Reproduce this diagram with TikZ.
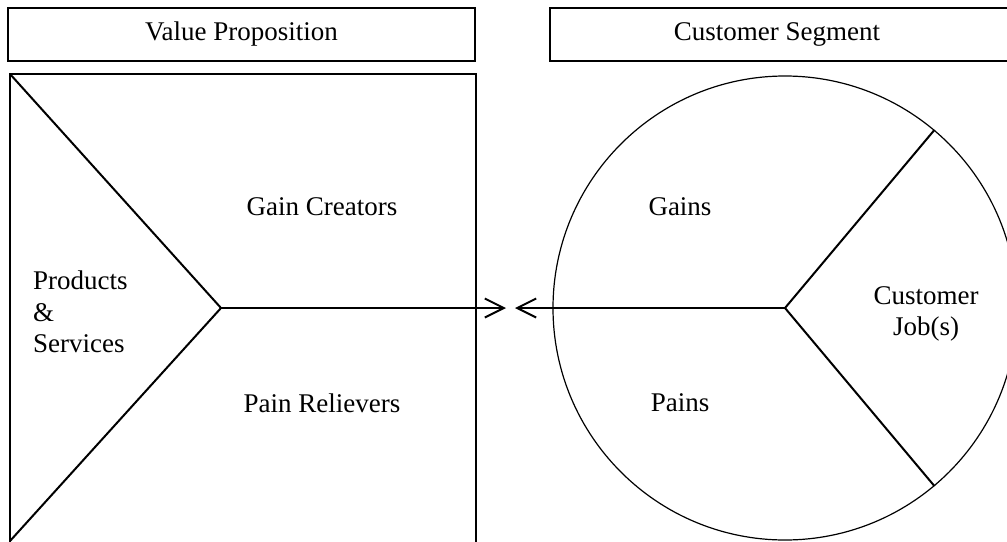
\documentclass[tikz,border=0pt]{standalone}
\usepackage{fontspec}
\setmainfont{Liberation Serif}
\usetikzlibrary{arrows.meta}
\usetikzlibrary{positioning}

\begin{document}
\begin{tikzpicture}[x=1pt, y=-1pt,
    every node/.style={font=\fontsize{27}{31.5}\selectfont},
    titlebox/.style={draw, line width=1.2pt, minimum width=467pt, minimum height=53pt, inner sep=0pt},
    divider/.style={line width=2pt},
    link/.style={line width=2pt, -{Straight Barb[length=19pt, width=19pt, line width=2pt]}}]
    \useasboundingbox (0,0) rectangle (1007,541);
    \clip (0,0) rectangle (1007,541);
    % headings
    \node[titlebox] (vp) at (241.5,34.5) {Value Proposition};
    \draw[line width=1.2pt] (550,8) rectangle (1015,61);
    \node (seg) at (777,34.5) {Customer Segment};
    % value map
    \draw[line width=1.2pt] (10,74) rectangle (476,570);
    \coordinate (tl) at (10,74);
    \coordinate (bl) at (10,541);
    \coordinate (mid) at (221,308);
    \draw[divider] (tl) -- (mid) -- (bl);
    \node (gc) at (322,207) {Gain Creators};
    \node (pr) at (322,403) {Pain Relievers};
    \node[align=left, anchor=west, inner sep=0pt] (ps) at (33,312) {Products\\\&\\Services};
    % customer profile
    \node[circle, draw, line width=1.2pt, minimum size=464pt, inner sep=0pt] (cp) at (785,308) {};
    \draw[divider] (cp.center) -- (cp.50);
    \draw[divider] (cp.center) -- (cp.-50);
    \node (gn) at (680,207) {Gains};
    \node (pn) at (680,403) {Pains};
    \node[align=center] (cj) at (926,314) {Customer\\Job(s)};
    % fit arrows
    \coordinate (tipL) at (506,308);
    \coordinate (tipR) at (515,308);
    \draw[link] (mid) -- (tipL);
    \draw[link] (cp.center) -- (tipR);
\end{tikzpicture}
\end{document}
